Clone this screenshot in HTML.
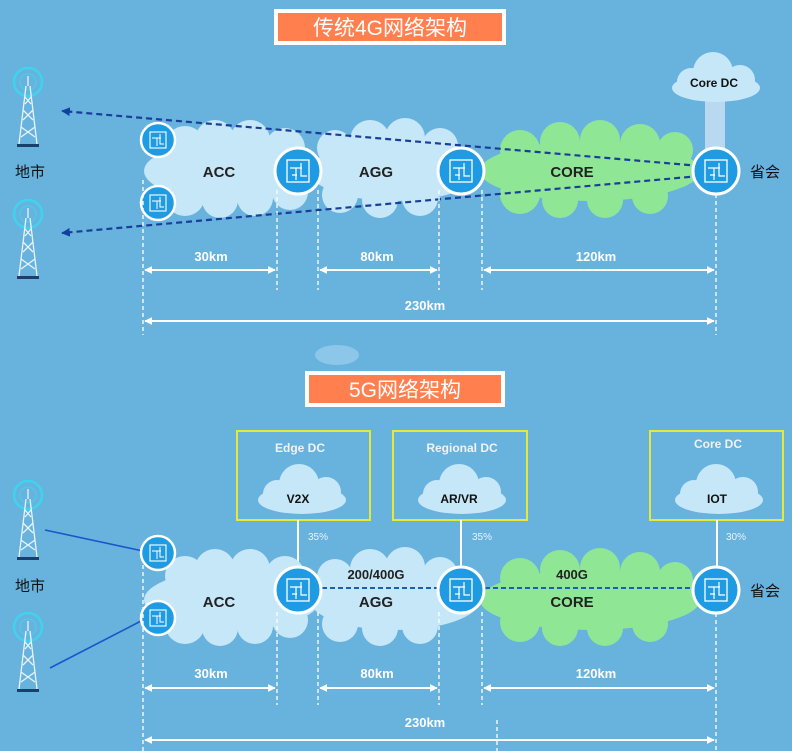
<!DOCTYPE html>
<html><head><meta charset="utf-8"><style>
html,body{margin:0;padding:0;background:#68b2de;}
svg{display:block}
text{font-family:"Liberation Sans","Noto Sans CJK SC",sans-serif;}
</style></head><body>
<svg width="792" height="751" viewBox="0 0 792 751" xmlns="http://www.w3.org/2000/svg">
<defs>
<g id="node">
 <circle r="23" fill="#1e9be3" stroke="#fff" stroke-width="3"/>
 <rect x="-11" y="-11" width="22" height="22" fill="none" stroke="#fff" stroke-width="1.3"/>
 <path d="M-8 -3 H4 M-2 -3 V9 M3 -8 V5 H9 M-6 4 H-1" stroke="#fff" stroke-width="1.2" fill="none"/>
</g>
<g id="snode">
 <circle r="17" fill="#1e9be3" stroke="#fff" stroke-width="2.5"/>
 <rect x="-8" y="-8" width="16" height="16" fill="none" stroke="#fff" stroke-width="1.1"/>
 <path d="M-6 -2 H3 M-1 -2 V6 M2 -6 V4 H6" stroke="#fff" stroke-width="1" fill="none"/>
</g>
<g id="tower">
 <circle cx="0" cy="0" r="14" fill="none" stroke="#3fd4ee" stroke-width="2.5"/>
 <circle cx="0" cy="0" r="8" fill="none" stroke="#3fd4ee" stroke-width="1.5" opacity="0.7"/>
 <path d="M0 -6 V4 M-2 4 L-9 62 M2 4 L9 62 M-7 45 L7 55 M7 45 L-7 55 M-5 28 L5 38 M5 28 L-5 38 M-3 15 L3 22 M3 15 L-3 22" stroke="#e8f4fb" stroke-width="1.3" fill="none"/>
 <rect x="-11" y="62" width="22" height="3" fill="#1a3f6a"/>
</g>
<g id="scloud">
 <ellipse cx="0" cy="10" rx="44" ry="14"/>
 <circle cx="-3" cy="-6" r="20"/>
 <circle cx="-25" cy="4" r="14"/>
 <circle cx="24" cy="2" r="15"/>
</g>
<marker id="ah" viewBox="0 0 10 10" refX="9" refY="5" markerWidth="4" markerHeight="4" orient="auto-start-reverse"><path d="M0 0 L10 5 L0 10 z" fill="#fff"/></marker>
<marker id="bh" viewBox="0 0 10 10" refX="9" refY="5" markerWidth="4" markerHeight="4" orient="auto"><path d="M0 0 L10 5 L0 10 z" fill="#1040a0"/></marker>
</defs>

<!-- ============ TOP ============ -->
<rect x="274" y="9" width="232" height="36" fill="#fff"/>
<rect x="278" y="13" width="224" height="28" fill="#ff7f4f"/>
<text x="390" y="35" font-size="21" fill="#fff" text-anchor="middle">传统4G网络架构</text>

<use href="#tower" x="28" y="82"/>
<use href="#tower" x="28" y="214"/>
<text x="30" y="177" font-size="15" fill="#111" text-anchor="middle">地市</text>

<!-- clouds -->
<g fill="#c6e7f7">
 <ellipse cx="232" cy="171" rx="88" ry="30"/>
 <circle cx="185" cy="146" r="20"/><circle cx="215" cy="140" r="20"/><circle cx="250" cy="140" r="20"/><circle cx="285" cy="148" r="20"/>
 <circle cx="185" cy="196" r="20"/><circle cx="220" cy="200" r="18"/><circle cx="255" cy="198" r="18"/><circle cx="290" cy="192" r="18"/>
 <ellipse cx="395" cy="171" rx="85" ry="30"/>
 <circle cx="335" cy="148" r="18"/><circle cx="370" cy="140" r="20"/><circle cx="405" cy="138" r="20"/><circle cx="440" cy="146" r="18"/>
 <circle cx="340" cy="195" r="18"/><circle cx="380" cy="200" r="18"/><circle cx="420" cy="198" r="18"/>
</g>
<g fill="#8fe796">
 <ellipse cx="590" cy="171" rx="110" ry="30"/>
 <circle cx="520" cy="150" r="20"/><circle cx="560" cy="142" r="20"/><circle cx="600" cy="140" r="20"/><circle cx="640" cy="144" r="20"/><circle cx="675" cy="150" r="18"/>
 <circle cx="520" cy="194" r="20"/><circle cx="560" cy="200" r="18"/><circle cx="605" cy="200" r="18"/><circle cx="650" cy="196" r="18"/>
</g>
<text x="219" y="177" font-size="15" font-weight="bold" fill="#222" text-anchor="middle">ACC</text>
<text x="376" y="177" font-size="15" font-weight="bold" fill="#222" text-anchor="middle">AGG</text>
<text x="572" y="177" font-size="15" font-weight="bold" fill="#222" text-anchor="middle">CORE</text>

<!-- core DC -->
<rect x="705" y="95" width="20" height="55" fill="#b8d9f0"/>
<g fill="#c6e7f7"><use href="#scloud" x="716" y="78"/></g>
<text x="714" y="87" font-size="12" font-weight="bold" fill="#111" text-anchor="middle">Core DC</text>

<!-- dashed blue lines -->
<g stroke="#1a3f99" stroke-width="2.2" stroke-dasharray="6 4" fill="none">
 <line x1="700" y1="166" x2="62" y2="111" marker-end="url(#bh)"/>
 <line x1="700" y1="176" x2="62" y2="233" marker-end="url(#bh)"/>
</g>

<use href="#snode" x="158" y="140"/>
<use href="#snode" x="158" y="203"/>
<use href="#node" x="298" y="171"/>
<use href="#node" x="461" y="171"/>
<use href="#node" x="716" y="171"/>
<text x="765" y="177" font-size="15" fill="#111" text-anchor="middle">省会</text>

<g stroke="#fff" stroke-width="1.3" stroke-dasharray="4 3">
 <line x1="143" y1="180" x2="143" y2="335"/>
 <line x1="277" y1="190" x2="277" y2="290"/>
 <line x1="318" y1="190" x2="318" y2="290"/>
 <line x1="439" y1="190" x2="439" y2="290"/>
 <line x1="482" y1="190" x2="482" y2="290"/>
 <line x1="716" y1="194" x2="716" y2="335"/>
</g>
<g stroke="#fff" stroke-width="2" marker-start="url(#ah)" marker-end="url(#ah)">
 <line x1="145" y1="270" x2="275" y2="270"/>
 <line x1="320" y1="270" x2="437" y2="270"/>
 <line x1="484" y1="270" x2="714" y2="270"/>
 <line x1="145" y1="321" x2="714" y2="321"/>
</g>
<g font-size="13" font-weight="bold" fill="#fff" text-anchor="middle">
 <text x="211" y="261">30km</text>
 <text x="377" y="261">80km</text>
 <text x="596" y="261">120km</text>
 <text x="425" y="310">230km</text>
</g>

<!-- ============ BOTTOM ============ -->
<ellipse cx="337" cy="355" rx="22" ry="10" fill="#8cc6e8"/>
<rect x="305" y="371" width="200" height="36" fill="#fff"/>
<rect x="309" y="375" width="192" height="28" fill="#ff7f4f"/>
<text x="405" y="397" font-size="21" fill="#fff" text-anchor="middle">5G网络架构</text>

<use href="#tower" x="28" y="495"/>
<use href="#tower" x="28" y="627"/>
<text x="30" y="591" font-size="15" fill="#111" text-anchor="middle">地市</text>
<g stroke="#1a56c8" stroke-width="1.6">
 <line x1="45" y1="530" x2="143" y2="551"/>
 <line x1="50" y1="668" x2="143" y2="620"/>
</g>

<!-- DC boxes -->
<g fill="none" stroke="#e8e83a" stroke-width="2">
 <rect x="237" y="431" width="133" height="89"/>
 <rect x="393" y="431" width="134" height="89"/>
 <rect x="650" y="431" width="133" height="89"/>
</g>
<g fill="#c6e7f7">
 <use href="#scloud" x="302" y="490"/>
 <use href="#scloud" x="462" y="490"/>
 <use href="#scloud" x="719" y="490"/>
</g>
<g font-size="12" font-weight="bold" fill="#f2f2f2" text-anchor="middle">
 <text x="300" y="452">Edge DC</text>
 <text x="462" y="452">Regional DC</text>
 <text x="718" y="448">Core DC</text>
</g>
<g font-size="12" font-weight="bold" fill="#111" text-anchor="middle">
 <text x="298" y="503">V2X</text>
 <text x="459" y="503">AR/VR</text>
 <text x="717" y="503">IOT</text>
</g>
<g stroke="#fff" stroke-width="2">
 <line x1="298" y1="520" x2="298" y2="577"/>
 <line x1="461" y1="520" x2="461" y2="577"/>
 <line x1="717" y1="520" x2="717" y2="577"/>
</g>
<g font-size="10" fill="#e8f4fb">
 <text x="308" y="540">35%</text>
 <text x="472" y="540">35%</text>
 <text x="726" y="540">30%</text>
</g>

<g fill="#c6e7f7">
 <ellipse cx="232" cy="600" rx="88" ry="30"/>
 <circle cx="185" cy="576" r="20"/><circle cx="215" cy="569" r="20"/><circle cx="250" cy="569" r="20"/><circle cx="285" cy="576" r="20"/>
 <circle cx="185" cy="624" r="20"/><circle cx="220" cy="628" r="18"/><circle cx="255" cy="626" r="18"/><circle cx="290" cy="620" r="18"/>
 <ellipse cx="395" cy="600" rx="85" ry="30"/>
 <circle cx="335" cy="577" r="18"/><circle cx="370" cy="569" r="20"/><circle cx="405" cy="567" r="20"/><circle cx="440" cy="575" r="18"/>
 <circle cx="340" cy="624" r="18"/><circle cx="380" cy="628" r="18"/><circle cx="420" cy="626" r="18"/>
</g>
<g fill="#8fe796">
 <ellipse cx="590" cy="600" rx="110" ry="30"/>
 <circle cx="520" cy="578" r="20"/><circle cx="560" cy="570" r="20"/><circle cx="600" cy="568" r="20"/><circle cx="640" cy="572" r="20"/><circle cx="675" cy="580" r="18"/>
 <circle cx="520" cy="622" r="20"/><circle cx="560" cy="628" r="18"/><circle cx="605" cy="628" r="18"/><circle cx="650" cy="624" r="18"/>
</g>
<g stroke="#1a5fb0" stroke-width="2" stroke-dasharray="5 3">
 <line x1="322" y1="588" x2="438" y2="588"/>
 <line x1="485" y1="588" x2="693" y2="588"/>
</g>
<g font-size="13" font-weight="bold" fill="#222" text-anchor="middle">
 <text x="376" y="579">200/400G</text>
 <text x="572" y="579">400G</text>
</g>
<g font-size="15" font-weight="bold" fill="#222" text-anchor="middle">
 <text x="219" y="607">ACC</text>
 <text x="376" y="607">AGG</text>
 <text x="572" y="607">CORE</text>
</g>

<use href="#snode" x="158" y="553"/>
<use href="#snode" x="158" y="618"/>
<use href="#node" x="298" y="590"/>
<use href="#node" x="461" y="590"/>
<use href="#node" x="716" y="590"/>
<text x="765" y="596" font-size="15" fill="#111" text-anchor="middle">省会</text>

<g stroke="#fff" stroke-width="1.3" stroke-dasharray="4 3">
 <line x1="143" y1="565" x2="143" y2="751"/>
 <line x1="277" y1="612" x2="277" y2="705"/>
 <line x1="318" y1="612" x2="318" y2="705"/>
 <line x1="439" y1="612" x2="439" y2="705"/>
 <line x1="482" y1="612" x2="482" y2="705"/>
 <line x1="716" y1="613" x2="716" y2="751"/>
 <line x1="497" y1="720" x2="497" y2="751"/>
</g>
<g stroke="#fff" stroke-width="2" marker-start="url(#ah)" marker-end="url(#ah)">
 <line x1="145" y1="688" x2="275" y2="688"/>
 <line x1="320" y1="688" x2="437" y2="688"/>
 <line x1="484" y1="688" x2="714" y2="688"/>
 <line x1="145" y1="740" x2="714" y2="740"/>
</g>
<g font-size="13" font-weight="bold" fill="#fff" text-anchor="middle">
 <text x="211" y="678">30km</text>
 <text x="377" y="678">80km</text>
 <text x="596" y="678">120km</text>
 <text x="425" y="727">230km</text>
</g>
</svg>
</body></html>
